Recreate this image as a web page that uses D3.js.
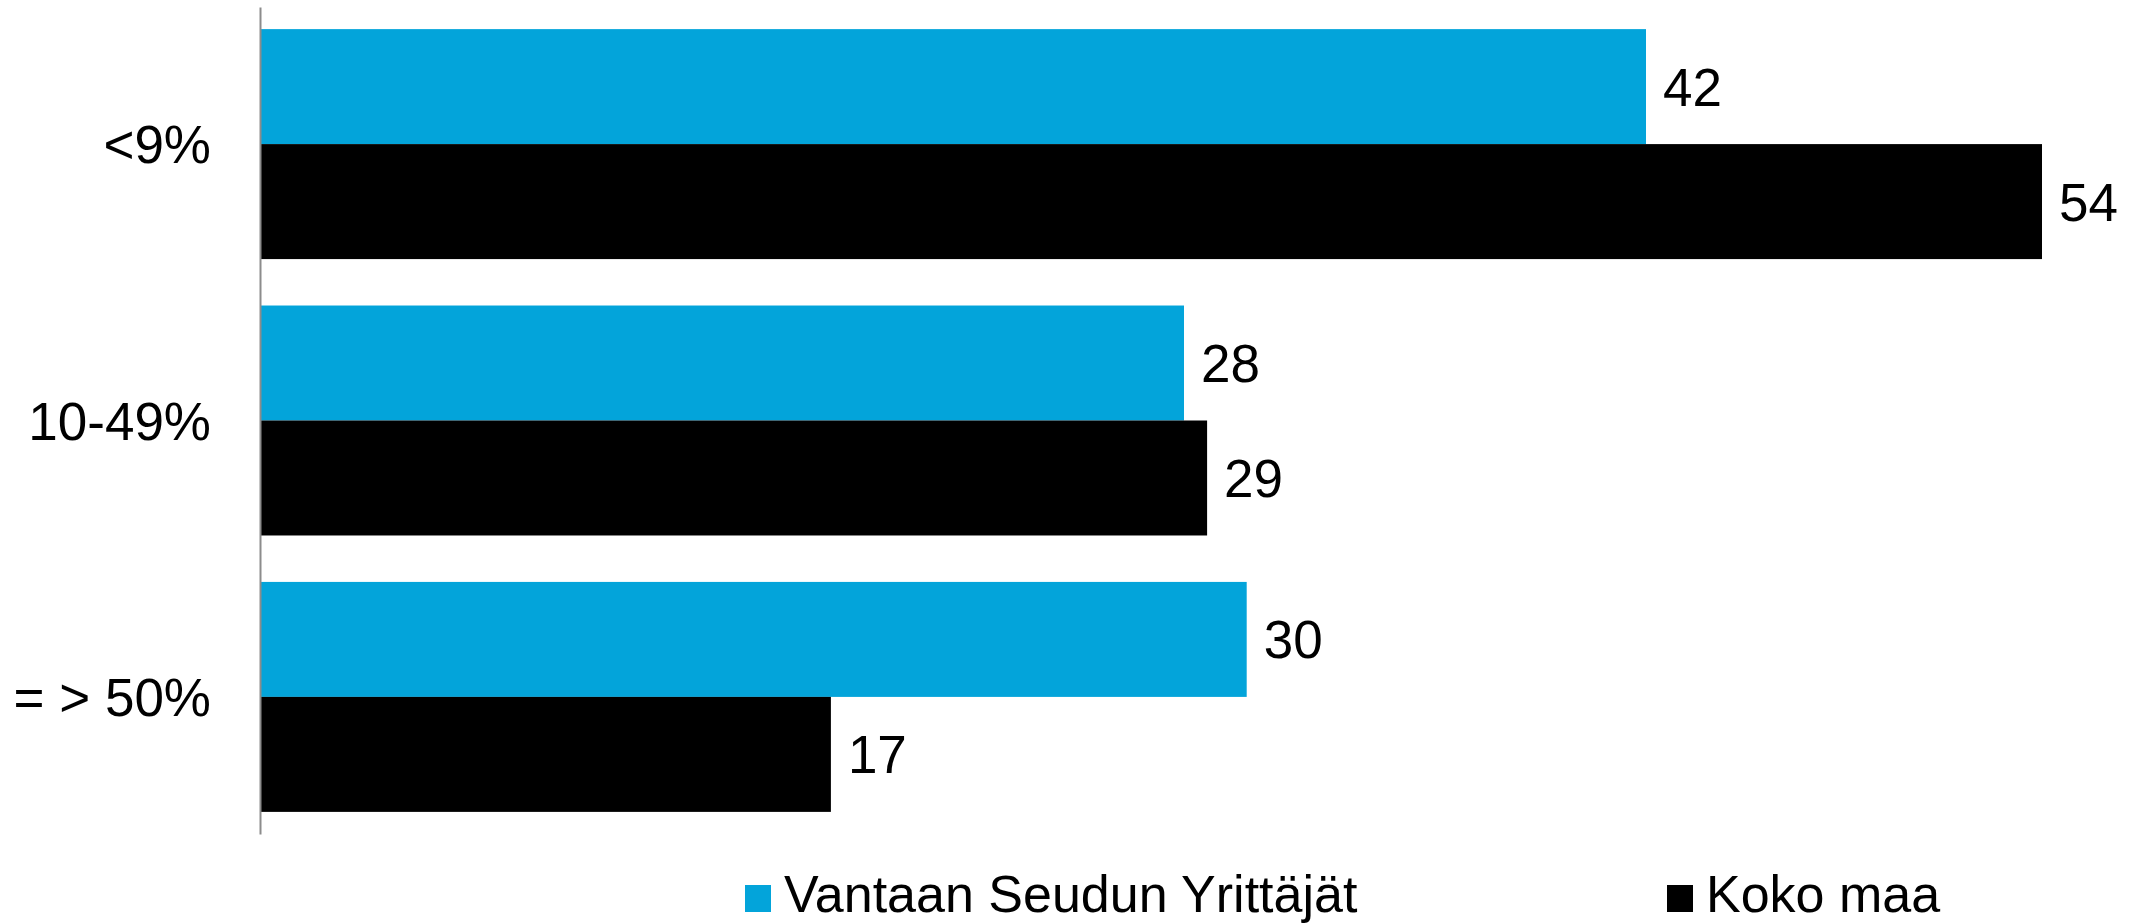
<!DOCTYPE html>
<html>
<head>
<meta charset="utf-8">
<script src="https://cdn.jsdelivr.net/npm/d3@7"></script>
<style>
  body { margin: 0; background: #fff; }
  text { font-family: "Liberation Sans", Arial, sans-serif; fill: #000; }
</style>
</head>
<body>
<div id="chart"></div>
<script>
// data
const categories = ["<9%", "10-49%", "= > 50%"];
const seriesNames = ["Vantaan Seudun Yrittäjät", "Koko maa"];
const vantaaValues = [42, 28, 29.9];
const kokoMaaValues = [54, 28.7, 17.3];
const seriesColors = ["#03a4da", "#000000"];

const width = 2131, height = 924;
const margin = { top: 7, left: 260, bottom: 90 };

const svg = d3.select("#chart")
    .append("svg")
    .attr("width", width)
    .attr("height", height);

// scales
const xScale = d3.scaleLinear()
    .domain([0, 60])
    .range([margin.left, margin.left + 60 * 33]);

const yScale = d3.scaleBand()
    .domain(categories)
    .range([margin.top, height - margin.bottom])
    .paddingInner(0.168)
    .paddingOuter(0.08);

const ySub = d3.scaleBand()
    .domain(seriesNames)
    .range([0, yScale.bandwidth()]);

const rows = categories.map((c, i) => ({
    category: c,
    values: [vantaaValues[i], kokoMaaValues[i]]
}));

const fmt = d3.format(".0f");

// bars
const groups = svg.selectAll(".group")
    .data(rows)
    .enter()
    .append("g")
    .attr("class", "group")
    .attr("transform", d => `translate(0, ${yScale(d.category)})`);

groups.selectAll("rect")
    .data(d => d.values.map((v, j) => ({ name: seriesNames[j], value: v, j: j })))
    .enter()
    .append("rect")
    .attr("x", xScale(0))
    .attr("y", d => ySub(d.name))
    .attr("width", d => xScale(d.value) - xScale(0))
    .attr("height", ySub.bandwidth())
    .attr("fill", d => seriesColors[d.j]);

// value labels
groups.selectAll(".value-label")
    .data(d => d.values.map((v, j) => ({ name: seriesNames[j], value: v })))
    .enter()
    .append("text")
    .attr("class", "value-label")
    .attr("x", d => xScale(d.value) + 17)
    .attr("y", d => ySub(d.name) + ySub.bandwidth() / 2)
    .attr("dy", "0.36em")
    .style("font-size", "53px")
    .text(d => fmt(d.value));

// y axis (line only, no ticks)
const yAxis = d3.axisLeft(yScale).tickSize(0).tickPadding(49);
const yAxisG = svg.append("g")
    .attr("class", "y-axis")
    .attr("transform", `translate(${xScale(0)}, 0)`)
    .call(yAxis);

yAxisG.select(".domain")
    .attr("stroke", "#8c8c8c")
    .attr("stroke-width", 2);

yAxisG.selectAll(".tick text")
    .attr("dy", "0.36em")
    .style("font-family", "'Liberation Sans', Arial, sans-serif")
    .style("font-size", "53px")
    .style("fill", "#000");

// legend
const legendX = [745, 1667];
const legend = svg.selectAll(".legend-item")
    .data(seriesNames)
    .enter()
    .append("g")
    .attr("class", "legend-item")
    .attr("transform", (d, i) => `translate(${legendX[i]}, 885)`);

legend.append("rect")
    .attr("width", 26)
    .attr("height", 27)
    .attr("fill", (d, i) => seriesColors[i]);

legend.append("text")
    .attr("x", 39)
    .attr("y", 27)
    .style("font-size", "52px")
    .text(d => d);
</script>
</body>
</html>
